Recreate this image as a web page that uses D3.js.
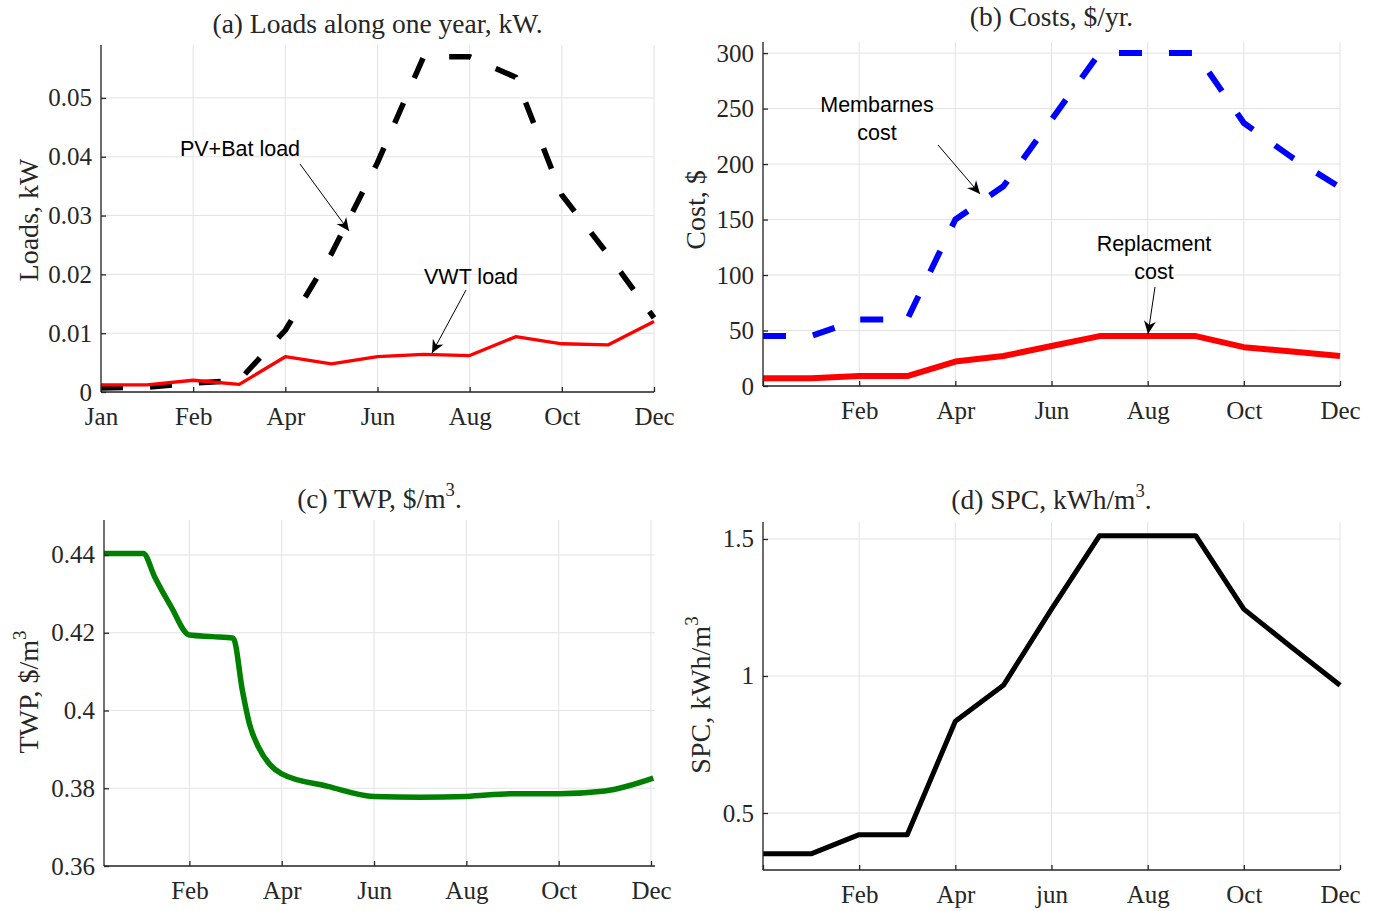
<!DOCTYPE html>
<html>
<head>
<meta charset="utf-8">
<script src="https://cdn.jsdelivr.net/npm/d3@7"></script>
<style>
  body { margin: 0; background: #fff; }
  svg { display: block; }
  text { font-family: "Liberation Serif", "Times New Roman", serif; fill: #262626; }
  .note { font-family: "Liberation Sans", Arial, sans-serif; fill: #000; }
</style>
</head>
<body>
<svg id="chart" width="1380" height="911"></svg>
<script>
// x positions: month index 0..12
const months = [0, 1, 2, 3, 4, 5, 6, 7, 8, 9, 10, 11, 12];
const monthTicks = [0, 2, 4, 6, 8, 10, 12];

// (a) loads, kW
const pvBatLoad = [0.0007, 0.0008, 0.0015, 0.002, 0.0105, 0.0235, 0.039, 0.057, 0.057, 0.0535, 0.0335, 0.0234, 0.0126];
const vwtLoad = [0.0012, 0.0012, 0.002, 0.0013, 0.006, 0.0048, 0.006, 0.0064, 0.0062, 0.0094, 0.0082, 0.008, 0.012];
const loadTicks = [0, 0.01, 0.02, 0.03, 0.04, 0.05];
const loadTickLabels = ["0", "0.01", "0.02", "0.03", "0.04", "0.05"];
const monthLabelsA = ["Jan", "Feb", "Apr", "Jun", "Aug", "Oct", "Dec"];

// (b) costs, $/yr
const membraneCost = [45, 45, 60, 60, 150, 180, 240, 300, 300, 300, 237, 206, 179];
const replacementCost = [7, 7, 9, 9, 22, 27, 36, 45, 45, 45, 35, 31, 27];
const costTicks = [0, 50, 100, 150, 200, 250, 300];
const monthLabelsB = ["", "Feb", "Apr", "Jun", "Aug", "Oct", "Dec"];

// (c) TWP, $/m3 (smooth curve, denser readings)
const twpMonths = [0.15, 1, 1.25, 1.6, 2, 2.5, 2.95, 3.15, 3.3, 3.5, 3.75, 4, 5, 6, 7, 8, 9, 10, 11, 12.05];
const twpValues = [0.4404, 0.4404, 0.4343, 0.4268, 0.4194, 0.419, 0.4186, 0.405, 0.3966, 0.3905, 0.386, 0.3837, 0.3805, 0.3779, 0.3777, 0.3779, 0.3786, 0.3786, 0.3793, 0.3826];
const twpTicks = [0.36, 0.38, 0.40, 0.42, 0.44];
const twpTickLabels = ["0.36", "0.38", "0.4", "0.42", "0.44"];
const monthTicksC = [2, 4, 6, 8, 10, 12];
const monthLabelsC = ["Feb", "Apr", "Jun", "Aug", "Oct", "Dec"];

// (d) SPC, kWh/m3
const spcValues = [0.351, 0.351, 0.421, 0.421, 0.835, 0.966, 1.244, 1.512, 1.512, 1.512, 1.244, 1.104, 0.966];
const spcTicks = [0.5, 1, 1.5];
const spcTickLabels = ["0.5", "1", "1.5"];
const monthLabelsD = ["", "Feb", "Apr", "jun", "Aug", "Oct", "Dec"];

const TICK_SIZE = 25, TITLE_SIZE = 27.5, LABEL_SIZE = 28, NOTE_SIZE = 21.5;

const svg = d3.select("#chart");
svg.append("rect").attr("width", 1380).attr("height", 911).attr("fill", "#fff");

svg.append("defs").append("marker")
  .attr("id", "head")
  .attr("markerUnits", "userSpaceOnUse")
  .attr("markerWidth", 16).attr("markerHeight", 16)
  .attr("viewBox", "-14 -7 16 14")
  .attr("refX", 0).attr("refY", 0)
  .attr("orient", "auto")
  .append("path")
  .attr("d", "M0,0 L-13,-6 L-9,0 L-13,6 Z")
  .attr("fill", "#000");

// text with optional superscript parts
function richText(sel, parts, size) {
  parts.forEach(p => {
    if (p.sup) {
      sel.append("tspan").attr("dy", -size * 0.42).attr("font-size", size * 0.68).text(p.t);
    } else if (p.after) {
      sel.append("tspan").attr("dy", size * 0.42).text(p.t);
    } else {
      sel.append("tspan").text(p.t);
    }
  });
}

function drawPanel(cfg) {
  const x = d3.scaleLinear().domain(cfg.xDomain).range([cfg.left, cfg.right]);
  const y = d3.scaleLinear().domain(cfg.yDomain).range([cfg.bottom, cfg.top]);
  const g = svg.append("g");
  const axisRight = cfg.axisRight || cfg.right;

  // grid
  g.append("g").selectAll("line").data(cfg.xTicks).join("line")
    .attr("x1", d => x(d)).attr("x2", d => x(d))
    .attr("y1", cfg.top).attr("y2", cfg.bottom)
    .attr("stroke", "#e2e2e2").attr("stroke-width", 1);
  g.append("g").selectAll("line").data(cfg.yTicks).join("line")
    .attr("x1", cfg.left).attr("x2", axisRight)
    .attr("y1", d => y(d)).attr("y2", d => y(d))
    .attr("stroke", "#e2e2e2").attr("stroke-width", 1);

  // lines
  cfg.series.forEach(s => {
    const line = d3.line().x(d => x(d[0])).y(d => y(d[1]));
    if (s.curve) line.curve(s.curve);
    g.append("path")
      .datum(d3.zip(s.xs, s.ys))
      .attr("d", line)
      .attr("fill", "none")
      .attr("stroke", s.color)
      .attr("stroke-width", s.width)
      .attr("stroke-linejoin", "round")
      .attr("stroke-dasharray", s.dash || null);
  });

  // axes
  const xAxis = d3.axisBottom(x).tickValues(cfg.xTicks)
    .tickFormat((d, i) => cfg.xLabels[i]).tickSizeInner(-5).tickSizeOuter(0).tickPadding(15);
  const yAxis = d3.axisLeft(y).tickValues(cfg.yTicks)
    .tickFormat((d, i) => cfg.yLabels[i]).tickSizeInner(-5).tickSizeOuter(0).tickPadding(9);

  const gx = g.append("g").attr("transform", `translate(0,${cfg.bottom})`).call(xAxis);
  const gy = g.append("g").attr("transform", `translate(${cfg.left},0)`).call(yAxis);
  [gx, gy].forEach(a => {
    a.select(".domain").attr("stroke", "#262626").attr("stroke-width", 1.3);
    a.selectAll(".tick line").attr("stroke", "#262626").attr("stroke-width", 1.3);
    a.selectAll(".tick text").attr("font-family", "Liberation Serif").attr("font-size", TICK_SIZE).attr("fill", "#262626");
  });
  gx.select(".domain").attr("d", `M${cfg.left},0H${axisRight}`);
  gy.select(".domain").attr("d", `M0,${cfg.bottom}V${cfg.top}`);

  // title
  const title = g.append("text")
    .attr("x", (cfg.left + cfg.right) / 2 + (cfg.titleDx || 0)).attr("y", cfg.titleY)
    .attr("text-anchor", "middle").attr("font-size", TITLE_SIZE).attr("fill", "#000");
  richText(title, cfg.title, TITLE_SIZE);

  // y label
  const yl = g.append("text")
    .attr("transform", `translate(${cfg.ylabelX},${cfg.ylabelY}) rotate(-90)`)
    .attr("text-anchor", "middle").attr("font-size", LABEL_SIZE).attr("fill", "#262626");
  richText(yl, cfg.ylabel, LABEL_SIZE);

  // annotations
  (cfg.notes || []).forEach(n => {
    n.lines.forEach((t, i) => {
      g.append("text").attr("class", "note")
        .attr("x", n.x).attr("y", n.y + i * 28)
        .attr("text-anchor", "middle").attr("font-size", NOTE_SIZE).text(t);
    });
    g.append("line")
      .attr("x1", n.from[0]).attr("y1", n.from[1])
      .attr("x2", n.to[0]).attr("y2", n.to[1])
      .attr("stroke", "#000").attr("stroke-width", 1)
      .attr("marker-end", "url(#head)");
  });
}

drawPanel({
  left: 101, right: 654, top: 45, bottom: 392,
  xDomain: [0, 12], yDomain: [0, 0.059],
  xTicks: monthTicks, xLabels: monthLabelsA,
  yTicks: loadTicks, yLabels: loadTickLabels,
  title: [{ t: "(a) Loads along one year, kW." }], titleY: 33,
  ylabel: [{ t: "Loads, kW" }], ylabelX: 38, ylabelY: 220,
  series: [
    { xs: months, ys: pvBatLoad, color: "#000", width: 5.5, dash: "22,27" },
    { xs: months, ys: vwtLoad, color: "#ff0000", width: 3.3 }
  ],
  notes: [
    { lines: ["PV+Bat load"], x: 240, y: 156, from: [300, 164], to: [349, 231] },
    { lines: ["VWT load"], x: 471, y: 284, from: [466, 290], to: [432, 353] }
  ]
});

drawPanel({
  left: 763, right: 1340, top: 42, bottom: 386,
  xDomain: [0, 12], yDomain: [0, 310],
  xTicks: monthTicks, xLabels: monthLabelsB,
  yTicks: costTicks, yLabels: costTicks.map(String),
  title: [{ t: "(b) Costs, $/yr." }], titleY: 26,
  ylabel: [{ t: "Cost, $" }], ylabelX: 705, ylabelY: 210,
  series: [
    { xs: months, ys: membraneCost, color: "#0000ff", width: 6, dash: "23,27" },
    { xs: months, ys: replacementCost, color: "#ff0000", width: 6 }
  ],
  notes: [
    { lines: ["Membarnes", "cost"], x: 877, y: 112, from: [938, 145], to: [980, 194] },
    { lines: ["Replacment", "cost"], x: 1154, y: 251, from: [1155, 287], to: [1148, 334] }
  ]
});

drawPanel({
  left: 104, right: 651, axisRight: 655, top: 520, bottom: 866,
  xDomain: [0.15, 12], yDomain: [0.36, 0.449],
  xTicks: monthTicksC, xLabels: monthLabelsC,
  yTicks: twpTicks, yLabels: twpTickLabels,
  title: [{ t: "(c) TWP, $/m" }, { t: "3", sup: true }, { t: ".", after: true }], titleY: 508, titleDx: 2,
  ylabel: [{ t: "TWP, $/m" }, { t: "3", sup: true }], ylabelX: 38, ylabelY: 692,
  series: [
    { xs: twpMonths, ys: twpValues, color: "#008000", width: 5.5, curve: d3.curveMonotoneX }
  ]
});

drawPanel({
  left: 763, right: 1340, top: 522, bottom: 870,
  xDomain: [0, 12], yDomain: [0.292, 1.562],
  xTicks: monthTicks, xLabels: monthLabelsD,
  yTicks: spcTicks, yLabels: spcTickLabels,
  title: [{ t: "(d) SPC, kWh/m" }, { t: "3", sup: true }, { t: ".", after: true }], titleY: 509,
  ylabel: [{ t: "SPC, kWh/m" }, { t: "3", sup: true }], ylabelX: 710, ylabelY: 695,
  series: [
    { xs: months, ys: spcValues, color: "#000", width: 5 }
  ]
});
</script>
</body>
</html>
